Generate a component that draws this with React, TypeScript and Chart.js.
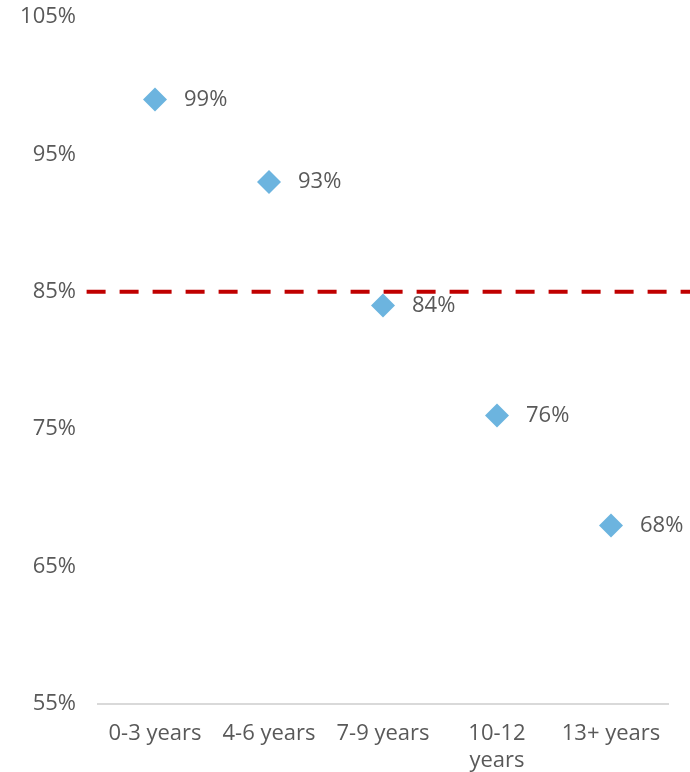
import React, { useEffect, useRef } from "react";
import { Chart, registerables } from "chart.js";

Chart.register(...registerables);

const categories = ["0-3 years", "4-6 years", "7-9 years", "10-12\nyears", "13+ years"];
const values = [99, 93, 84, 76, 68];
const targetValue = 85;
const yTicks = [55, 65, 75, 85, 95, 105];

const TEXT = "#595959";
const FONT = "'Open Sans', 'Noto Sans', sans-serif";

const labelPlugin = {
  id: "pointLabels",
  afterDatasetsDraw(chart: any) {
    const meta = chart.getDatasetMeta(0);
    const ctx = chart.ctx;
    ctx.save();
    ctx.fillStyle = TEXT;
    ctx.font = `22px ${FONT}`;
    ctx.textAlign = "left";
    ctx.textBaseline = "middle";
    meta.data.forEach((el: any, i: number) => {
      ctx.fillText(`${values[i]}%`, el.x + 29, el.y);
    });
    ctx.restore();
  },
};

export default function App() {
  const ref = useRef<HTMLCanvasElement | null>(null);
  useEffect(() => {
    document.body.style.margin = "0";
    const chart = new Chart(ref.current as HTMLCanvasElement, {
      type: "scatter",
      data: {
        datasets: [
          {
            type: "scatter",
            data: values.map((v, i) => ({ x: i + 1, y: v })),
            pointStyle: "rectRot",
            pointRadius: 12,
            pointHoverRadius: 12,
            backgroundColor: "#6CB4DF",
            borderColor: "#6CB4DF",
            borderWidth: 0,
          },
          {
            type: "line",
            data: [
              { x: 0.4, y: targetValue },
              { x: 5.7, y: targetValue },
            ],
            borderColor: "#C00000",
            borderWidth: 4,
            borderDash: [19, 14],
            pointRadius: 0,
            clip: false as any,
          } as any,
        ],
      },
      options: {
        animation: false,
        responsive: true,
        maintainAspectRatio: false,
        layout: { padding: { top: 0, right: 22, bottom: 0, left: 0 } },
        plugins: { legend: { display: false }, tooltip: { enabled: false } },
        scales: {
          x: {
            type: "linear",
            min: 0.5,
            max: 5.5,
            afterBuildTicks: (s: any) => {
              s.ticks = categories.map((_, i) => ({ value: i + 1 }));
            },
            afterFit: (s: any) => {
              s.height = 68;
            },
            grid: { display: false, drawTicks: false },
            border: { display: true, color: "#D9D9D9", width: 2 },
            ticks: {
              autoSkip: false,
              maxRotation: 0,
              padding: 17,
              color: TEXT,
              font: { family: FONT, size: 22, lineHeight: 1.2 },
              callback: (v: any) => {
                const c = categories[Math.round(v) - 1];
                return c ? c.split("\n") : "";
              },
            },
          },
          y: {
            min: 55,
            max: 105,
            afterBuildTicks: (s: any) => {
              s.ticks = yTicks.map((v) => ({ value: v }));
            },
            afterFit: (s: any) => {
              s.width = 98;
              s.paddingTop = 17;
              s.paddingBottom = 0;
            },
            grid: { display: false, drawTicks: false },
            border: { display: false },
            ticks: {
              padding: 22,
              color: TEXT,
              font: { family: FONT, size: 22 },
              callback: (v: any) => `${v}%`,
            },
          },
        },
      },
      plugins: [labelPlugin],
    });
    return () => chart.destroy();
  }, []);
  return (
    <div style={{ position: "relative", width: 690, height: 772 }}>
      <canvas ref={ref} />
    </div>
  );
}
